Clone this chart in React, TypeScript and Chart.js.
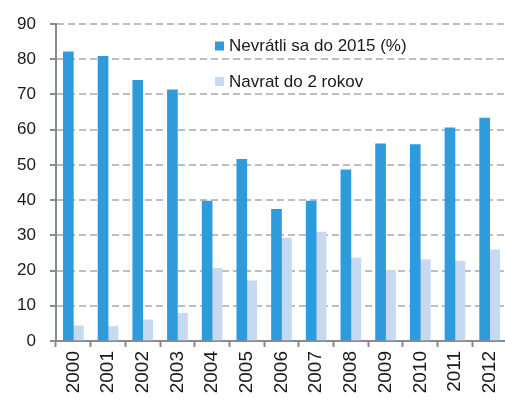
import React, { useEffect, useRef } from "react";
import { Chart, registerables } from "chart.js";

Chart.register(...registerables);

const years = ["2000", "2001", "2002", "2003", "2004", "2005", "2006", "2007", "2008", "2009", "2010", "2011", "2012"];
const nevratli = [82.1, 80.8, 74.0, 71.3, 39.7, 51.6, 37.4, 39.7, 48.6, 56.0, 55.8, 60.5, 63.3];
const navrat = [4.3, 4.1, 6.0, 7.9, 20.6, 17.1, 29.2, 30.9, 23.6, 20.0, 23.1, 22.7, 25.9];
const seriesNames = ["Nevrátli sa do 2015 (%)", "Navrat do 2 rokov"];
const colors = ["#2E9BDD", "#C7D9F1"];
const FONT = "'Liberation Sans', Arial, Helvetica, sans-serif";

const legendPlugin = {
  id: "customLegend",
  afterDraw(chart: any) {
    const ctx = chart.ctx;
    ctx.save();
    ctx.font = `17px ${FONT}`;
    ctx.textBaseline = "middle";
    ctx.textAlign = "left";
    const rows = [46, 81.5];
    seriesNames.forEach((name, i) => {
      ctx.fillStyle = colors[i];
      ctx.fillRect(215, rows[i] - 4.5, 9, 9);
      ctx.fillStyle = "#1a1a1a";
      ctx.fillText(name, 229, rows[i] + 0.5);
    });
    ctx.restore();
  },
};

export default function App() {
  const ref = useRef<HTMLCanvasElement | null>(null);
  useEffect(() => {
    if (!ref.current) return;
    const chart = new Chart(ref.current, {
      type: "bar",
      data: {
        labels: years,
        datasets: [
          { label: seriesNames[0], data: nevratli, backgroundColor: colors[0], barThickness: 10 },
          { label: seriesNames[1], data: navrat, backgroundColor: colors[1], barThickness: 10 },
        ],
      },
      options: {
        responsive: false,
        animation: false,
        layout: { padding: { left: 0, top: 24, right: 1, bottom: 0 } },
        plugins: { legend: { display: false }, tooltip: { enabled: false } },
        scales: {
          x: {
            offset: true,
            grid: {
              display: true,
              offset: true,
              drawOnChartArea: false,
              drawTicks: true,
              tickLength: 6,
              tickColor: "#8a8a8a",
              tickWidth: 2,
            },
            border: { display: true, color: "#8a8a8a", width: 2 },
            ticks: {
              minRotation: 90,
              maxRotation: 90,
              padding: 4,
              color: "#1a1a1a",
              font: { family: FONT, size: 19 },
            },
            afterFit: (s: any) => {
              s.height = 59;
              s.paddingLeft = 0;
              s.paddingRight = 0;
            },
          },
          y: {
            min: 0,
            max: 90,
            ticks: {
              stepSize: 10,
              padding: 14,
              color: "#1a1a1a",
              font: { family: FONT, size: 17 },
            },
            grid: {
              color: "#bdbdbd",
              lineWidth: 2,
              tickLength: 6,
              tickColor: "#8a8a8a",
              tickWidth: 2,
              tickBorderDash: [],
            },
            border: { display: true, color: "#8a8a8a", width: 2, dash: [7, 4] },
            afterFit: (s: any) => {
              s.width = 56;
              s.paddingTop = 0;
              s.paddingBottom = 0;
            },
          },
        },
      },
      plugins: [legendPlugin],
    });
    return () => chart.destroy();
  }, []);
  return (
    <div style={{ position: "absolute", left: 0, top: 0, width: 508, height: 400 }}>
      <canvas ref={ref} width={508} height={400} style={{ display: "block" }} />
    </div>
  );
}
